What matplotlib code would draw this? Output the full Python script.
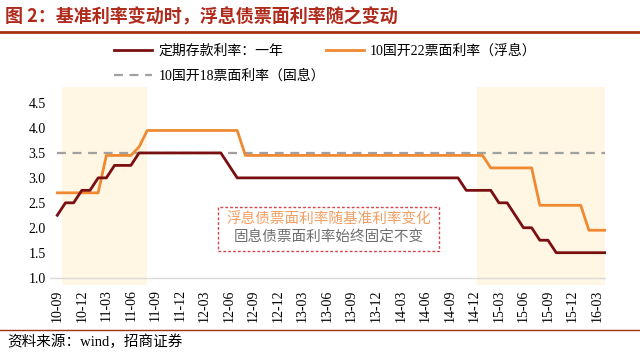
import matplotlib.pyplot as plt
from matplotlib.patches import Rectangle
from matplotlib.lines import Line2D

plt.rcParams['font.family'] = ['Liberation Serif', 'Noto Sans CJK SC']

#月度数据：2010-09 至 2016-04
months = []
y, m = 2010, 9
for _ in range(68):
    months.append(f'{y % 100:02d}-{m:02d}')
    m += 1
    if m > 12:
        m = 1
        y += 1

# 定期存款利率：一年
deposit = ([2.25] + [2.5] * 2 + [2.75] * 2 + [3.0] * 2 + [3.25] * 3 + [3.5] * 11
           + [3.25] + [3.0] * 28 + [2.75] * 4 + [2.5] * 2 + [2.25] + [2.0] * 2
           + [1.75] * 2 + [1.5] * 7)
# 10国开22票面利率（浮息）
floating = ([2.70] * 6 + [3.45] * 4 + [3.62] + [3.95] * 12 + [3.45] * 30
            + [3.20] * 6 + [2.45] * 6 + [1.95] * 3)
# 10国开18票面利率（固息）
fixed = [3.5] * 68

labels = ['定期存款利率：一年', '10国开22票面利率（浮息）', '10国开18票面利率（固息）']
shade_spans = [(0.55, 11.0), (51.3, 67.0)]
yticks = [1.0, 1.5, 2.0, 2.5, 3.0, 3.5, 4.0, 4.5]

x = list(range(len(months)))

fig = plt.figure(figsize=(6.4, 3.52), dpi=100)
ax = fig.add_axes([0.078, 0.19, 0.869, 0.564])

for a, b in shade_spans:
    ax.axvspan(a, b, color='#FFF6E3', lw=0, zorder=0)

l1, = ax.plot(x, deposit, color='#7A0F12', lw=2, zorder=3)
l2, = ax.plot(x, floating, color='#EF8A33', lw=2, zorder=2)
l3, = ax.plot(x, fixed, color='#A0A0A0', lw=1.6, ls=(0, (4, 3)), zorder=1)

ax.axhline(1.0, color='#D9D9D9', lw=1, zorder=1)
ax.set_xlim(-0.9, 67.1)
ax.set_ylim(0.85, 4.83)
ax.set_yticks(yticks)
ax.set_yticklabels([f'{v:.1f}' for v in yticks], fontsize=10)
ax.set_xticks(x[::3])
ax.set_xticklabels(months[::3], rotation=90, fontsize=10)
ax.tick_params(length=0, pad=3)
for s in ax.spines.values():
    s.set_visible(False)

# 注释框
ax.add_patch(Rectangle((19.6, 1.53), 27.1, 0.89, fill=False, ec='#D2454F',
                       ls=(0, (2, 1.5)), lw=1, zorder=4))
ax.text(33.2, 2.17, '浮息债票面利率随基准利率变化', color='#F29F63',
        ha='center', va='center', fontsize=10.5, family='Noto Sans CJK SC', zorder=5)
ax.text(33.2, 1.80, '固息债票面利率始终固定不变', color='#6E6E6E',
        ha='center', va='center', fontsize=10.5, family='Noto Sans CJK SC', zorder=5)

# 图例：三个分开放置
for h, lab, (lx, ly) in zip([l1, l2, l3], labels,
                            [(0.178, 0.855), (0.509, 0.855), (0.178, 0.785)]):
    lg = fig.legend([h], [lab], loc='center left', bbox_to_anchor=(lx, ly),
                    frameon=False, fontsize=10, handlelength=2.75,
                    handletextpad=0.45, borderpad=0, borderaxespad=0)

fig.text(0.008, 0.952, '图 2：基准利率变动时，浮息债票面利率随之变动', color='#B02A1C',
         fontsize=13, weight='bold', va='center', family='Noto Sans CJK SC')
fig.add_artist(Line2D([0.0, 1.0], [0.908, 0.908], color='#A6320E', lw=2))
fig.add_artist(Line2D([0.0, 1.0], [0.062, 0.062], color='#A6320E', lw=1))
fig.text(0.012, 0.028, '资料来源：wind，招商证券', fontsize=10.5, va='center')

fig.savefig('out.png', dpi=100)
